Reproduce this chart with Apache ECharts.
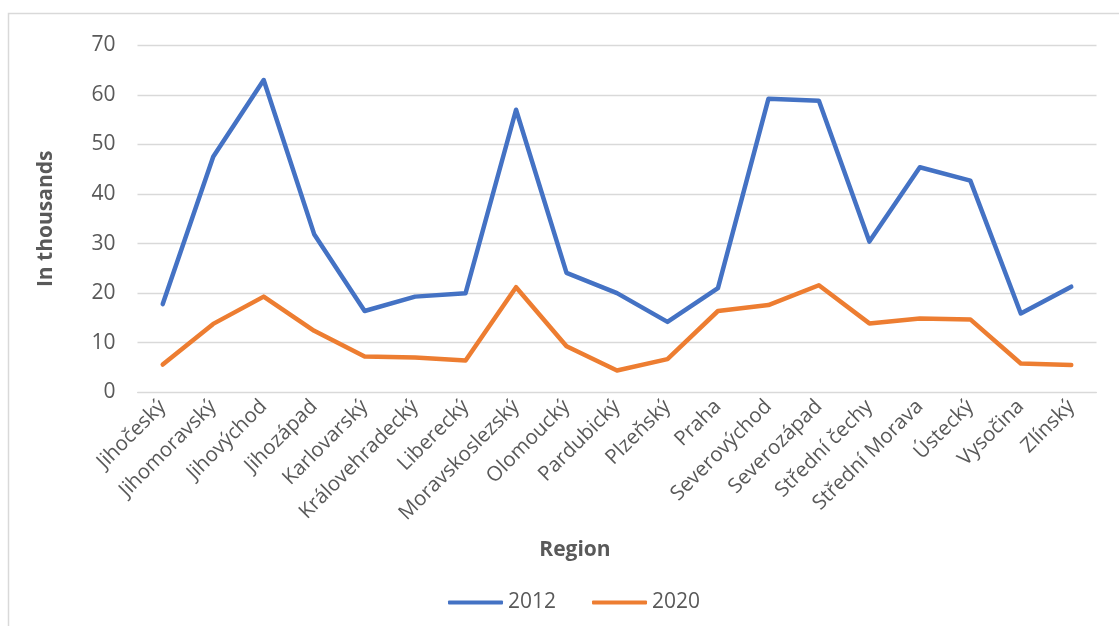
<!DOCTYPE html>
<html>
<head>
<meta charset="utf-8">
<script src="https://cdn.jsdelivr.net/npm/echarts@6/dist/echarts.min.js"></script>
<style>
html,body{margin:0;padding:0;background:#fff;}
#chart{width:1119px;height:626px;}
</style>
</head>
<body>
<div id="chart"></div>
<script>
const regions = ["Jihočeský","Jihomoravský","Jihovýchod","Jihozápad","Karlovarský","Královehradecký","Liberecký","Moravskoslezský","Olomoucký","Pardubický","Plzeňský","Praha","Severovýchod","Severozápad","Střední čechy","Střední Morava","Ústecký","Vysočina","Zlínský"];
const values2012 = [17.8,47.5,63.0,31.9,16.4,19.3,20.0,57.0,24.1,20.0,14.2,21.0,59.2,58.8,30.4,45.4,42.7,15.9,21.3];
const values2020 = [5.6,13.8,19.3,12.4,7.2,7.0,6.4,21.2,9.3,4.4,6.7,16.4,17.6,21.6,13.9,14.9,14.7,5.8,5.5];
const yTicks = [0,10,20,30,40,50,60,70];

const font = "'Open Sans', 'Liberation Sans', sans-serif";
const chart = echarts.init(document.getElementById('chart'), null, {renderer:'canvas'});
chart.setOption({
  animation:false,
  backgroundColor:'#fff',
  graphic:[{
    type:'rect', shape:{x:8.5,y:13.5,width:1200,height:700},
    style:{fill:'none',stroke:'#d9d9d9',lineWidth:1.5}, silent:true, z:-1
  }],
  grid:{left:137.5,right:22.5,top:45.3,bottom:233.7,containLabel:false},
  legend:{
    data:['2012','2020'], left:443, top:587, itemWidth:55, itemHeight:4, itemGap:36,
    textStyle:{fontFamily:font,fontSize:21,color:'#595959'},
    icon:'roundRect'
  },
  xAxis:{
    type:'category', data:regions, boundaryGap:true,
    name:'Region', nameLocation:'middle', nameGap:147,
    nameTextStyle:{fontFamily:font,fontSize:21,fontWeight:'bold',color:'#595959',padding:[0,84,0,0]},
    axisLine:{show:true,lineStyle:{color:'#d9d9d9',width:1}},
    axisTick:{show:false},
    axisLabel:{rotate:45,fontFamily:font,fontSize:20.5,color:'#595959',margin:11,interval:0}
  },
  yAxis:{
    type:'value', min:yTicks[0], max:yTicks[yTicks.length-1], interval:10,
    name:'In thousands', nameLocation:'middle', nameGap:81, nameRotate:90,
    nameTextStyle:{fontFamily:font,fontSize:21,fontWeight:'bold',color:'#595959'},
    axisLine:{show:false}, axisTick:{show:false},
    axisLabel:{fontFamily:font,fontSize:21,color:'#595959',margin:22},
    splitLine:{lineStyle:{color:'#d9d9d9',width:1.3}}
  },
  series:[
    {name:'2012',type:'line',data:values2012,symbol:'none',lineStyle:{color:'#4472C4',width:4.5,cap:'round',join:'round'},itemStyle:{color:'#4472C4'}},
    {name:'2020',type:'line',data:values2020,symbol:'none',lineStyle:{color:'#ED7D31',width:4.5,cap:'round',join:'round'},itemStyle:{color:'#ED7D31'}}
  ]
});
</script>
</body>
</html>
